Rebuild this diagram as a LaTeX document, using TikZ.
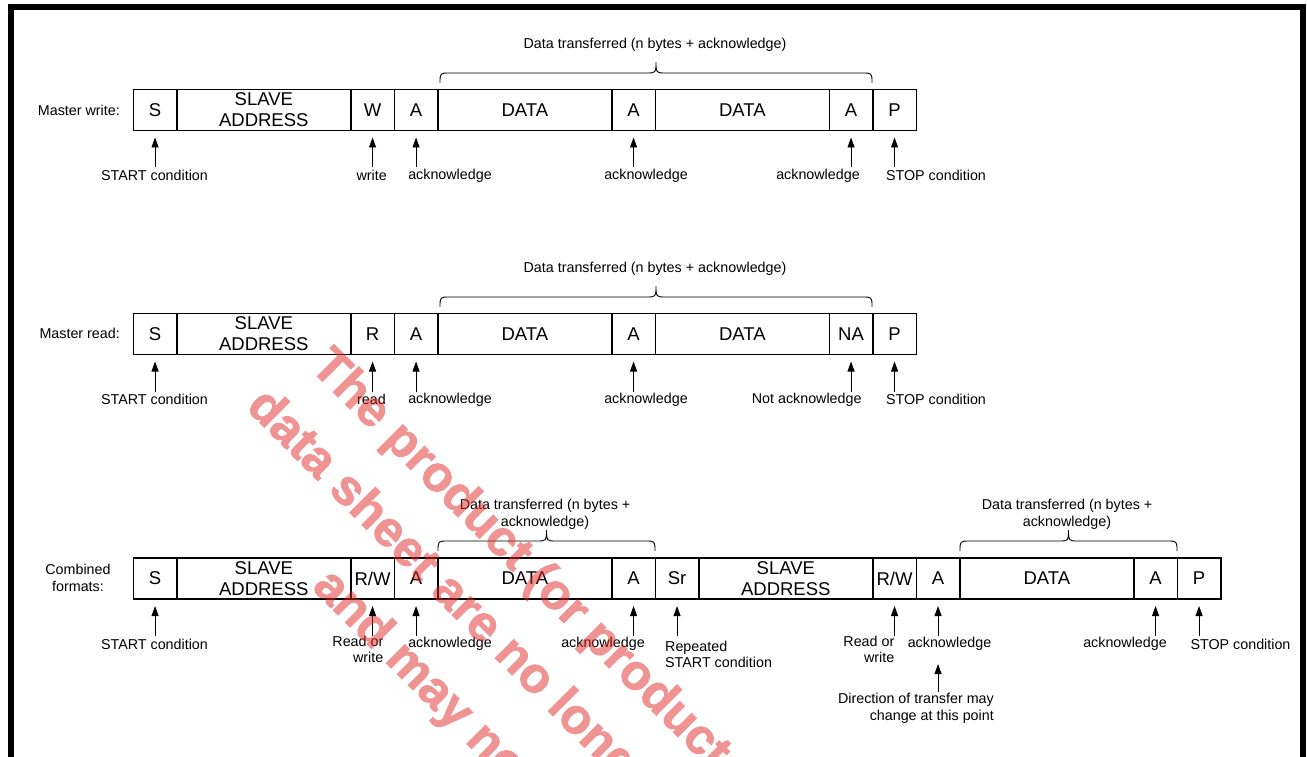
\documentclass[tikz,border=0pt]{standalone}
\usepackage{fontspec}
\setmainfont{Liberation Sans}
\newfontfamily\wmfont{Liberation Sans}[BoldFeatures={FakeBold=1.6}]
\usetikzlibrary{arrows.meta}
\definecolor{wmred}{RGB}{225,40,40}
\newcommand{\mycell}[5]{\node[cell, minimum width={#3*43.5pt}, anchor=north west] (#1) at ({133.3+#2*43.5},#4) {#5};}
\newcommand{\myarrow}[1]{\draw[arr] ([yshift=-37pt]#1.south) -- ([yshift=-7pt]#1.south);}
\newcommand{\mybrace}[3]{%
  \draw[bracepath] (#1,#3) .. controls (#1,#3-10) .. (#1+10,#3-10) -- ({(#1+#2)/2-10},#3-10)
   .. controls ({(#1+#2)/2},#3-10) .. ({(#1+#2)/2},#3-21)
   .. controls ({(#1+#2)/2},#3-10) .. ({(#1+#2)/2+10},#3-10) -- (#2-10,#3-10)
   .. controls (#2,#3-10) .. (#2,#3);}
\begin{document}
\begin{tikzpicture}[x=1pt,y=-1pt,
  cell/.style={draw, line width=1.6pt, inner sep=0pt, outer sep=0pt, minimum height=41pt,
    align=center, font=\fontsize{18.5}{21}\selectfont},
  lbl/.style={inner sep=0pt, align=center, font=\fontsize{14.3}{16.5}\selectfont},
  arr/.style={line width=0.9pt, -{Triangle[width=7pt,length=10pt]}},
  bracepath/.style={line width=0.9pt},
  wm/.style={inner sep=0pt, text=wmred, font=\fontsize{50}{60}\wmfont\bfseries}]
\useasboundingbox (0,0) rectangle (1307,757);
\draw[line width=6pt, line join=miter] (11,757) -- (11,7) -- (1303,7) -- (1303,757);

% ---------- Row 1: Master write ----------
\node[lbl, anchor=east] (m1) at (120,110) {Master write:};
\mycell{a1}{0}{1}{89.5}{S}
\mycell{a2}{1}{4}{89.5}{SLAVE\\ADDRESS}
\mycell{a3}{5}{1}{89.5}{W}
\mycell{a4}{6}{1}{89.5}{A}
\mycell{a5}{7}{4}{89.5}{DATA}
\mycell{a6}{11}{1}{89.5}{A}
\mycell{a7}{12}{4}{89.5}{DATA}
\mycell{a8}{16}{1}{89.5}{A}
\mycell{a9}{17}{1}{89.5}{P}
\foreach \c in {a1,a3,a4,a6,a8,a9} {\myarrow{\c}}
\node[lbl] (la1) at (154.5,175.5) {START condition};
\node[lbl] (la3) at (371.7,175.5) {write};
\node[lbl] (la4) at (450,175.5) {acknowledge};
\node[lbl] (la6) at (646,175.5) {acknowledge};
\node[lbl] (la8) at (818,175.5) {acknowledge};
\node[lbl] (la9) at (936,175.5) {STOP condition};
\mybrace{440}{872}{83}
\node[lbl] (ta) at (655,44.5) {Data transferred (n bytes + acknowledge)};

% ---------- Row 2: Master read ----------
\node[lbl, anchor=east] (m2) at (120,333.5) {Master read:};
\mycell{b1}{0}{1}{313.5}{S}
\mycell{b2}{1}{4}{313.5}{SLAVE\\ADDRESS}
\mycell{b3}{5}{1}{313.5}{R}
\mycell{b4}{6}{1}{313.5}{A}
\mycell{b5}{7}{4}{313.5}{DATA}
\mycell{b6}{11}{1}{313.5}{A}
\mycell{b7}{12}{4}{313.5}{DATA}
\mycell{b8}{16}{1}{313.5}{NA}
\mycell{b9}{17}{1}{313.5}{P}
\foreach \c in {b1,b3,b4,b6,b8,b9} {\myarrow{\c}}
\node[lbl] (lb1) at (154.5,399.5) {START condition};
\node[lbl] (lb3) at (371.5,399.5) {read};
\node[lbl] (lb4) at (450,399.5) {acknowledge};
\node[lbl] (lb6) at (646,399.5) {acknowledge};
\node[lbl] (lb8) at (806.7,399.5) {Not acknowledge};
\node[lbl] (lb9) at (936,399.5) {STOP condition};
\mybrace{440}{872}{307}
\node[lbl] (tb) at (655,268.5) {Data transferred (n bytes + acknowledge)};

% ---------- Row 3: Combined formats ----------
\node[lbl] (m3) at (78,578) {Combined\\formats:};
\mycell{c1}{0}{1}{558}{S}
\mycell{c2}{1}{4}{558}{SLAVE\\ADDRESS}
\mycell{c3}{5}{1}{558}{R/W}
\mycell{c4}{6}{1}{558}{A}
\mycell{c5}{7}{4}{558}{DATA}
\mycell{c6}{11}{1}{558}{A}
\mycell{c7}{12}{1}{558}{Sr}
\mycell{c8}{13}{4}{558}{SLAVE\\ADDRESS}
\mycell{c9}{17}{1}{558}{R/W}
\mycell{c10}{18}{1}{558}{A}
\mycell{c11}{19}{4}{558}{DATA}
\mycell{c12}{23}{1}{558}{A}
\mycell{c13}{24}{1}{558}{P}
\foreach \c in {c1,c3,c4,c6,c7,c9,c10,c12,c13} {\myarrow{\c}}
\draw[arr] ([yshift=-93pt]c10.south) -- ([yshift=-65pt]c10.south);
\node[lbl] (lc1) at (154.5,644) {START condition};
\node[lbl, anchor=east, align=right] (lc3) at (383.5,649.5) {Read or\\write};
\node[lbl] (lc4) at (450,644) {acknowledge};
\node[lbl] (lc6) at (603,644) {acknowledge};
\node[lbl, anchor=west, align=left] (lc7) at (665,654.5) {Repeated\\START condition};
\node[lbl, anchor=east, align=right] (lc9) at (894.5,649.5) {Read or\\write};
\node[lbl] (lc10) at (949.5,644) {acknowledge};
\node[lbl] (lc12) at (1125,644) {acknowledge};
\node[lbl] (lc13) at (1240.5,644) {STOP condition};
\node[lbl, anchor=east, align=right] (ldir) at (994,708.5) {Direction of transfer may\\change at this point};
\mybrace{438}{655}{551}
\node[lbl] (tc1) at (545,514.5) {Data transferred (n bytes +\\acknowledge)};
\mybrace{960}{1177}{551}
\node[lbl] (tc2) at (1067,514.5) {Data transferred (n bytes +\\acknowledge)};

% ---------- watermark ----------
\begin{scope}[transparency group, opacity=0.5]
\clip (0,0) rectangle (1307,757);
\node[wm, anchor=base west, rotate=-45] (wm1) at (309,368) {The product (or products)};
\node[wm, anchor=base west, rotate=-45] (wm2) at (245,408) {data sheet are no longer};
\node[wm, anchor=base west, rotate=-45] (wm3) at (311,588) {and may not};
\end{scope}
\end{tikzpicture}
\end{document}
